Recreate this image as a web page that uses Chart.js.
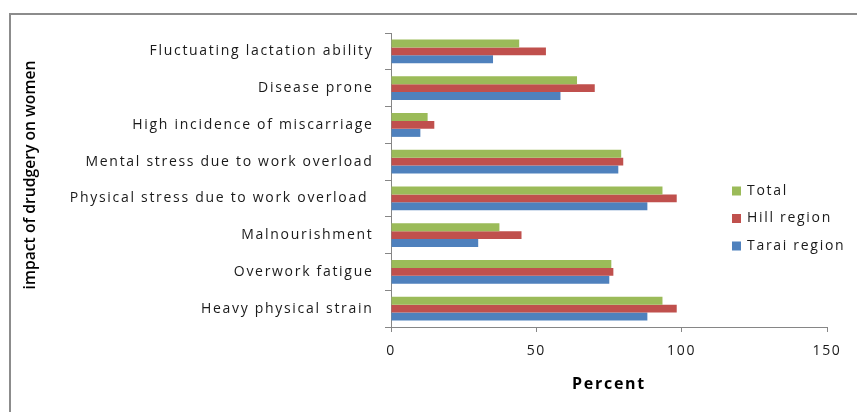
<!DOCTYPE html>
<html>
<head>
<meta charset="utf-8">
<script src="https://cdn.jsdelivr.net/npm/chart.js@4.4.1/dist/chart.umd.min.js"></script>
<style>
  html, body { margin: 0; padding: 0; background: #fff; overflow: hidden; }
  #frame { position: absolute; left: 9px; top: 13px; width: 900px; height: 500px; border: 2px solid #8c8c8c; }
  #wrap { position: absolute; left: 0; top: 0; width: 857px; height: 412px; }
</style>
</head>
<body>
<div id="frame"></div>
<div id="wrap"><canvas id="chart"></canvas></div>
<script>
const categories = [
    'Fluctuating lactation ability',
    'Disease prone',
    'High incidence of miscarriage',
    'Mental stress due to work overload',
    'Physical stress due to work overload ',
    'Malnourishment',
    'Overwork fatigue',
    'Heavy physical strain'
];
const totalValues = [44.1, 64.0, 12.6, 79.2, 93.4, 37.3, 75.8, 93.4];
const hillValues  = [53.3, 70.1, 14.9, 79.9, 98.3, 44.9, 76.5, 98.3];
const taraiValues = [35.1, 58.3, 10.1, 78.2, 88.2, 30.0, 75.1, 88.2];
const xTicks = [0, 50, 100, 150];
const yTitle = 'impact of drudgery on women';

const axisGray = '#868686';
const font = "'Open Sans', sans-serif";
const spacing = '1.7px';

// the original text is stretched wide, so space the letters out
const spacingPlugin = {
    id: 'spacing',
    beforeUpdate(chart) { chart.ctx.letterSpacing = spacing; },
    beforeLayout(chart) { chart.ctx.letterSpacing = spacing; },
    beforeDraw(chart) { chart.ctx.letterSpacing = spacing; }
};

// legend inside the plot at the right, plus the y title
const legendPlugin = {
    id: 'sideLegend',
    afterDraw(chart) {
        const ctx = chart.ctx;
        ctx.save();
        ctx.letterSpacing = '1.7px';
        ctx.font = `14px ${font}`;
        ctx.textBaseline = 'middle';
        chart.data.datasets.forEach((ds, i) => {
            const y = 191 + i * 27.5;
            ctx.fillStyle = ds.backgroundColor;
            ctx.fillRect(732, y - 4.5, 9, 9);
            ctx.fillStyle = '#1a1a1a';
            ctx.fillText(ds.label, 747, y);
        });
        ctx.restore();

        const area = chart.chartArea;
        ctx.save();
        ctx.letterSpacing = '0px';
        ctx.font = `600 15.7px ${font}`;
        ctx.fillStyle = '#000';
        ctx.textAlign = 'center';
        ctx.textBaseline = 'middle';
        ctx.translate(31, (area.top + area.bottom) / 2 - 5);
        ctx.rotate(-Math.PI / 2);
        ctx.fillText(yTitle, 0, 0);
        ctx.restore();
    }
};

new Chart(document.getElementById('chart'), {
    type: 'bar',
    data: {
        labels: categories,
        datasets: [
            { label: 'Total', data: totalValues, backgroundColor: '#9BBB59' },
            { label: 'Hill region', data: hillValues, backgroundColor: '#C0504D' },
            { label: 'Tarai region', data: taraiValues, backgroundColor: '#4F81BD' }
        ]
    },
    options: {
        indexAxis: 'y',
        responsive: true,
        maintainAspectRatio: false,
        animation: false,
        categoryPercentage: 0.653,
        barPercentage: 1,
        layout: { padding: { left: 0, top: 33, right: 30, bottom: 0 } },
        plugins: {
            legend: { display: false },
            tooltip: { enabled: false }
        },
        scales: {
            y: {
                afterFit: s => { s.width = 391; },
                grid: { drawOnChartArea: false, tickLength: 6, color: axisGray, offset: true },
                border: { color: axisGray, width: 1 },
                ticks: { color: '#1a1a1a', font: { family: font, size: 14 }, padding: 11.5 }
            },
            x: {
                min: 0,
                max: 150,
                afterFit: s => { s.height = 85; },
                afterBuildTicks: s => { s.ticks = xTicks.map(v => ({ value: v })); },
                grid: { drawOnChartArea: false, tickLength: 5, color: axisGray },
                border: { color: axisGray, width: 1 },
                ticks: { color: '#1a1a1a', font: { family: font, size: 14 }, padding: 11 },
                title: {
                    display: true,
                    text: 'Percent',
                    color: '#000',
                    font: { family: font, size: 16, weight: 'bold' },
                    padding: { top: 4, bottom: 18 }
                }
            }
        }
    },
    plugins: [spacingPlugin, legendPlugin]
});
</script>
</body>
</html>
